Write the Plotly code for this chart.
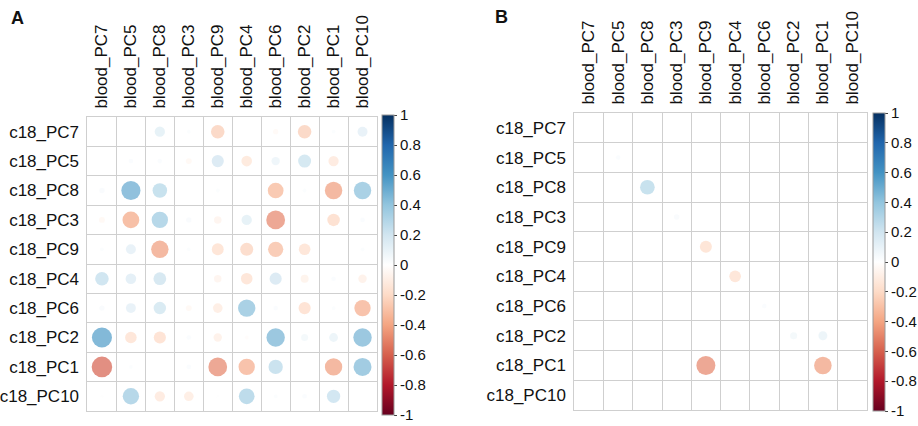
import numpy as np
import plotly.graph_objects as go

rows = ["c18_PC7", "c18_PC5", "c18_PC8", "c18_PC3", "c18_PC9",
        "c18_PC4", "c18_PC6", "c18_PC2", "c18_PC1", "c18_PC10"]
cols = ["blood_PC7", "blood_PC5", "blood_PC8", "blood_PC3", "blood_PC9",
        "blood_PC4", "blood_PC6", "blood_PC2", "blood_PC1", "blood_PC10"]

r_PC7 = [0.00, 0.00, 0.15, 0.02, -0.26, 0.00, -0.04, -0.26, 0.02, 0.14]
r_PC5 = [0.00, 0.03, 0.03, -0.05, 0.21, -0.16, 0.10, 0.24, -0.15, 0.00]
r_PC8 = [0.04, 0.52, 0.30, 0.00, 0.02, 0.00, -0.35, 0.02, -0.43, 0.43]
r_PC3 = [-0.05, -0.40, 0.38, 0.04, -0.08, 0.15, -0.50, 0.00, -0.22, 0.03]
r_PC9 = [0.02, 0.14, -0.43, 0.02, -0.20, -0.24, -0.33, -0.19, 0.00, 0.02]
r_PC4 = [0.26, 0.16, 0.23, 0.00, -0.08, -0.19, 0.21, -0.09, 0.03, -0.10]
r_PC6 = [0.04, 0.14, 0.22, -0.05, -0.13, 0.43, 0.03, -0.21, 0.02, -0.38]
r_PC2 = [0.57, -0.19, -0.21, 0.03, -0.10, -0.02, 0.48, 0.07, 0.11, 0.48]
r_PC1 = [-0.60, 0.02, 0.00, 0.03, -0.50, -0.38, 0.29, 0.00, -0.43, 0.46]
r_PC10 = [0.01, 0.38, -0.15, -0.13, 0.01, 0.35, 0.02, 0.03, 0.25, 0.00]

corr_rows = [r_PC7, r_PC5, r_PC8, r_PC3, r_PC9, r_PC4, r_PC6, r_PC2, r_PC1, r_PC10]

# significant cells shown in panel B
sig_pairs = [("c18_PC5", "blood_PC5"), ("c18_PC8", "blood_PC8"), ("c18_PC3", "blood_PC3"),
             ("c18_PC9", "blood_PC9"), ("c18_PC4", "blood_PC4"), ("c18_PC6", "blood_PC6"),
             ("c18_PC2", "blood_PC2"), ("c18_PC2", "blood_PC1"), ("c18_PC1", "blood_PC9"),
             ("c18_PC1", "blood_PC1")]

cb_vals = [1, 0.8, 0.6, 0.4, 0.2, 0, -0.2, -0.4, -0.6, -0.8, -1]
cb_text = ["1", "0.8", "0.6", "0.4", "0.2", "0", "-0.2", "-0.4", "-0.6", "-0.8", "-1"]

rdbu = ["#67001F", "#B2182B", "#D6604D", "#F4A582", "#FDDBC7", "#FFFFFF",
        "#D1E5F0", "#92C5DE", "#4393C3", "#2166AC", "#053061"]
scale = [[i / 10, c] for i, c in enumerate(rdbu)]

W, H = 918, 426
FONT = "Liberation Sans, Arial, sans-serif"
GRID = "#cfcfcf"

panels = {
    "A": dict(x0=83, x1=378, y0=117, y1=411, cbx=383, cby=115, cblen=300),
    "B": dict(x0=579, x1=877, y0=113, y1=410, cbx=883, cby=113, cblen=298),
}

corr = np.array(corr_rows)
fig = go.Figure()


def cells(mask_pairs=None):
    xs, ys, vs = [], [], []
    for i, rn in enumerate(rows):
        for j, cn in enumerate(cols):
            v = corr[i, j]
            if mask_pairs is not None and (rn, cn) not in mask_pairs:
                continue
            if v == 0:
                continue
            xs.append(j)
            ys.append(i)
            vs.append(v)
    return xs, ys, np.array(vs)


for k, (name, p) in enumerate(panels.items()):
    sfx = "" if k == 0 else "2"
    cell = (p["x1"] - p["x0"]) / len(cols)
    xs, ys, vs = cells(None if name == "A" else set(sig_pairs))
    sizes = 0.9 * cell * np.sqrt(np.abs(vs))
    fig.add_trace(go.Scatter(
        x=xs, y=ys, mode="markers", xaxis="x" + sfx, yaxis="y" + sfx,
        marker=dict(size=sizes, color=vs, colorscale=scale, cmin=-1, cmax=1,
                    line=dict(width=0), showscale=True,
                    colorbar=dict(
                        x=p["cbx"] / W, xanchor="left", y=1 - p["cby"] / H, yanchor="top",
                        len=p["cblen"], lenmode="pixels", thickness=12, thicknessmode="pixels",
                        xpad=0, ypad=0, outlinewidth=1, outlinecolor="#9a9a9a",
                        tickvals=cb_vals, ticktext=cb_text, ticks="outside", ticklen=3,
                        tickcolor="#444", tickwidth=1,
                        tickfont=dict(family=FONT, size=15, color="#111"))),
        hoverinfo="skip", showlegend=False))
    axcommon = dict(showgrid=False, zeroline=False, showline=True, mirror=True,
                    linecolor=GRID, linewidth=1, ticks="", fixedrange=True,
                    tickmode="array", tickvals=list(range(10)),
                    tickfont=dict(family=FONT, size=17, color="#111"),
                    minor=dict(tickmode="linear", tick0=-0.5, dtick=1, showgrid=True,
                               gridcolor=GRID, gridwidth=1, ticks=""))
    fig.layout["xaxis" + sfx] = dict(axcommon, domain=[p["x0"] / W, p["x1"] / W],
                                      range=[-0.5, 9.5], side="top", tickangle=-90,
                                      ticktext=cols, anchor="y" + sfx, ticklabelstandoff=4)
    fig.layout["yaxis" + sfx] = dict(axcommon, domain=[1 - p["y1"] / H, 1 - p["y0"] / H],
                                      range=[9.5, -0.5], ticktext=rows, anchor="x" + sfx,
                                      ticklabelstandoff=4)

fig.add_annotation(text="<b>A</b>", x=3 / W, y=1 - 6 / H, xref="paper", yref="paper",
                   xanchor="left", yanchor="top", showarrow=False,
                   font=dict(family=FONT, size=18, color="#111"))
fig.add_annotation(text="<b>B</b>", x=496 / W, y=1 - 5 / H, xref="paper", yref="paper",
                   xanchor="left", yanchor="top", showarrow=False,
                   font=dict(family=FONT, size=18, color="#111"))

fig.update_layout(width=W, height=H, margin=dict(l=0, r=0, t=0, b=0),
                  paper_bgcolor="white", plot_bgcolor="white", font=dict(family=FONT))
fig.write_html("out.html")
